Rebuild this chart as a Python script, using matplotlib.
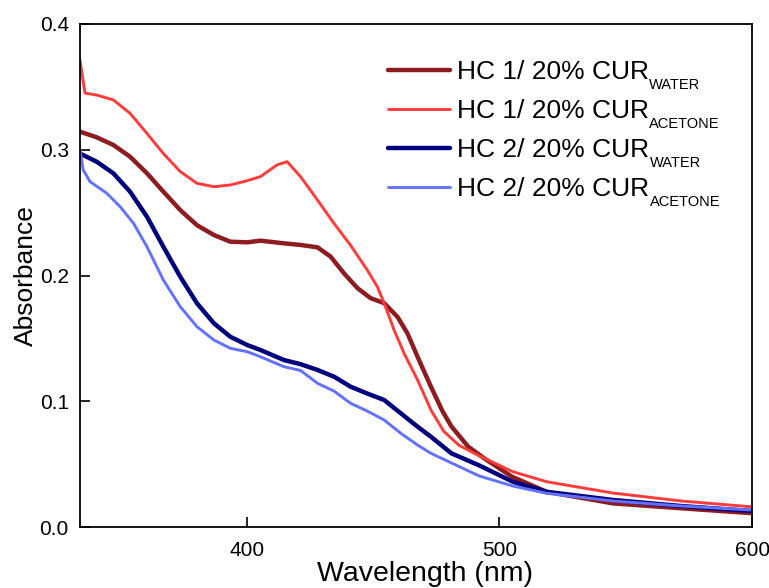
import matplotlib
matplotlib.use("Agg")
import matplotlib.pyplot as plt

plt.rcParams['font.family'] = ['Liberation Sans', 'DejaVu Sans']

# HC 1 / 20% CUR (water)
wl_hc1_water = [334, 340.6, 347.2, 353.8, 360.5, 367, 373.7, 380.3, 387, 393.5, 400.2, 405.4,
                414.7, 421.3, 428, 433.2, 438.5, 443.8, 449, 454.4, 459.7, 463.6, 467.6, 472.9,
                477.5, 481, 487.6, 494, 505, 518.7, 545, 572, 600]
abs_hc1_water = [0.3144, 0.3099, 0.3038, 0.2945, 0.2813, 0.2667, 0.252, 0.240, 0.2322, 0.2269, 0.2264, 0.2277,
                 0.2256, 0.2243, 0.2224, 0.215, 0.2017, 0.190, 0.182, 0.178, 0.167, 0.154, 0.1354, 0.1116,
                 0.092, 0.080, 0.064, 0.0546, 0.040, 0.028, 0.0188, 0.0149, 0.011]

# HC 1 / 20% CUR (acetone)
wl_hc1_acetone = [334, 336, 340.6, 347.2, 353.8, 360.5, 367, 373.7, 380.3, 387, 393.5, 400.2, 405.4,
                  412, 416, 421.3, 428, 434.5, 441.1, 447.8, 451.7, 454.4, 458.3, 462.3, 467.6,
                  472.9, 478, 484, 491.6, 505.3, 518.7, 545, 572, 600]
abs_hc1_acetone = [0.371, 0.345, 0.3435, 0.3396, 0.329, 0.313, 0.297, 0.2826, 0.2733, 0.2706, 0.272, 0.2754, 0.2786,
                   0.288, 0.2905, 0.2786, 0.260, 0.2415, 0.224, 0.204, 0.191, 0.178, 0.1567, 0.138, 0.117,
                   0.093, 0.076, 0.065, 0.057, 0.044, 0.036, 0.027, 0.0207, 0.016]

# HC 2 / 20% CUR (water)
wl_hc2_water = [334, 340.6, 347.2, 353.8, 360.5, 367, 373.7, 380.3, 387, 393.5, 400.2, 405.4,
                414.7, 421.3, 428, 434.6, 441.1, 447.9, 454.4, 461, 467.6, 472.9, 481, 492,
                505.3, 518.7, 545, 572, 600]
abs_hc2_water = [0.297, 0.2905, 0.2813, 0.2667, 0.2468, 0.2229, 0.199, 0.1779, 0.162, 0.1513, 0.1447, 0.1408,
                 0.1328, 0.1295, 0.1249, 0.1195, 0.1116, 0.106, 0.101, 0.0904, 0.0798, 0.0718, 0.0586, 0.049,
                 0.036, 0.028, 0.0215, 0.0167, 0.0127]

# HC 2 / 20% CUR (acetone)
wl_hc2_acetone = [334, 335.3, 338, 344.6, 349.9, 355.2, 360.5, 367, 373.7, 380.3, 387, 393.5,
                  400.2, 405.4, 414.7, 421.3, 428, 434.6, 441.1, 447.9, 454.4, 461, 467.6, 472.9,
                  492, 505.3, 518.7, 545, 572, 600]
abs_hc2_acetone = [0.300, 0.2839, 0.2746, 0.2654, 0.2547, 0.2415, 0.2229, 0.1964, 0.1752, 0.1593, 0.1487, 0.1421,
                   0.1394, 0.1354, 0.1275, 0.1245, 0.1143, 0.108, 0.0984, 0.092, 0.0851, 0.0745, 0.0652, 0.0586,
                   0.0406, 0.0326, 0.0268, 0.0207, 0.0167, 0.0135]

series_labels = ['HC 1/ 20% CUR', 'HC 1/ 20% CUR', 'HC 2/ 20% CUR', 'HC 2/ 20% CUR']
series_subscripts = ['WATER', 'ACETONE', 'WATER', 'ACETONE']
series_colors = ['#8E1B1F', '#FF3B3B', '#00007E', '#6272FF']
series_widths = [3.2, 2.1, 3.2, 2.1]

x_ticks = [400, 500, 600]
y_ticks = [0.0, 0.1, 0.2, 0.3, 0.4]
y_tick_labels = ['0.0', '0.1', '0.2', '0.3', '0.4']

fig = plt.figure(figsize=(7.69, 5.88), dpi=100)
ax = fig.add_axes([0.104, 0.1037, 0.874, 0.8555])

data = [(wl_hc1_water, abs_hc1_water), (wl_hc1_acetone, abs_hc1_acetone),
        (wl_hc2_water, abs_hc2_water), (wl_hc2_acetone, abs_hc2_acetone)]
for (xs, ys), lab, col, lw in zip(data, series_labels, series_colors, series_widths):
    ax.plot(xs, ys, color=col, lw=lw, label=lab, solid_capstyle='round')

ax.set_xlim(334, 600)
ax.set_ylim(0, 0.4)
ax.set_xticks(x_ticks)
ax.set_yticks(y_ticks)
ax.set_yticklabels(y_tick_labels)
ax.tick_params(direction='in', length=7, width=1.2, labelsize=15, top=False, right=False)
ax.tick_params(axis='x', pad=10)
ax.tick_params(axis='y', pad=8)
for s in ax.spines.values():
    s.set_linewidth(1.3)

ax.set_xlabel('Wavelength (nm)', fontsize=20.5, labelpad=1, x=0.514)
ax.set_ylabel('Absorbance', fontsize=19, labelpad=1)

leg = ax.legend(loc='upper left', bbox_to_anchor=(0.458, 0.928), frameon=False, fontsize=19,
                handlelength=2.35, handletextpad=0.27, labelspacing=0.57, borderaxespad=0, borderpad=0)
leg.set_zorder(5)
for txt, sub in zip(leg.get_texts(), series_subscripts):
    ax.annotate(sub, xy=(1, 0), xycoords=txt, xytext=(0.3, -3.6), textcoords='offset points',
                fontsize=10.5, va='baseline', ha='left', zorder=10, annotation_clip=False)

fig.canvas.draw()
fig.savefig('out.png', dpi=100)
